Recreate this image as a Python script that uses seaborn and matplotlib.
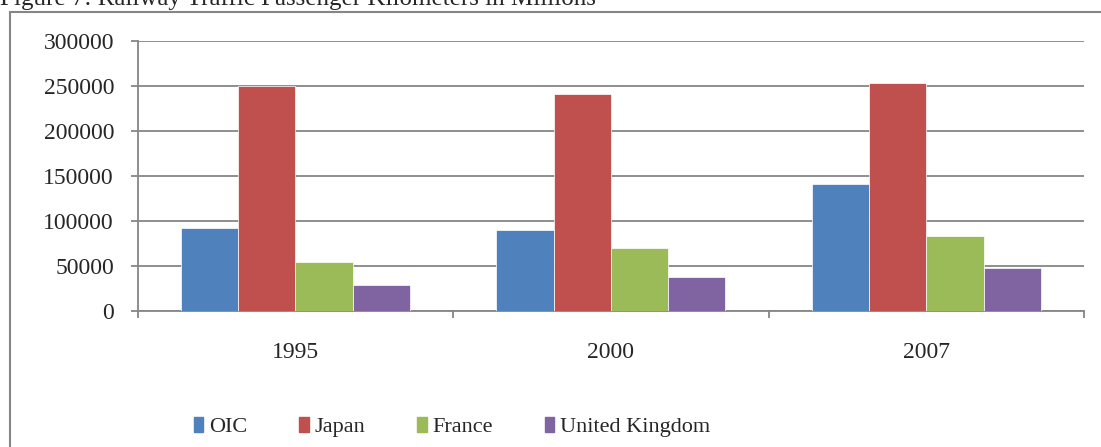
import numpy as np
import pandas as pd
import matplotlib
matplotlib.use('Agg')
import matplotlib.pyplot as plt
from matplotlib.patches import Rectangle
from matplotlib.ticker import FixedLocator
import seaborn as sns

# values (passenger km, millions)
years = ['1995', '2000', '2007']
countries = ['OIC', 'Japan', 'France', 'United Kingdom']
oic = [91900, 90400, 141500]
japan = [249200, 241100, 253000]
france = [54800, 69600, 83000]
uk = [29200, 37400, 48100]
colors = ['#4F81BD', '#C0504D', '#9BBB59', '#8064A2']
y_ticks = [0, 50000, 100000, 150000, 200000, 250000, 300000]

df = pd.DataFrame({
    'year': years * 4,
    'country': np.repeat(countries, 3),
    'value': oic + japan + france + uk,
})

sns.set_style('white')
plt.rcParams['font.family'] = ['Liberation Serif', 'DejaVu Serif']

fig = plt.figure(figsize=(11.01, 4.47), dpi=100)
ax = fig.add_axes([0.125, 0.304, 0.8596, 0.605])

sns.barplot(data=df, x='year', y='value', hue='country', order=years,
            hue_order=countries, palette=colors, saturation=1, width=0.726,
            edgecolor='white', linewidth=0.5, ax=ax, zorder=3)

grey = '#868686'
ax.set_ylim(0, 300000)
ax.set_xlim(-0.5, 2.5)
ax.set_yticks(y_ticks)
ax.set_yticklabels([str(t) for t in y_ticks])
ax.yaxis.grid(True, color=grey, linewidth=1.3, zorder=0)
ax.set_axisbelow(True)
for s in ['top', 'right']:
    ax.spines[s].set_visible(False)
for s in ['left', 'bottom']:
    ax.spines[s].set_color(grey)
    ax.spines[s].set_linewidth(1.3)

ax.tick_params(axis='y', which='major', length=5, width=1.3, color=grey,
               left=True, labelsize=17, pad=12)
ax.tick_params(axis='x', which='major', length=0, labelsize=17, pad=22)
ax.xaxis.set_minor_locator(FixedLocator([-0.5, 0.5, 1.5, 2.5]))
ax.tick_params(axis='x', which='minor', length=5, width=1.3, color=grey,
               bottom=True)
ax.set_xlabel('')
ax.set_ylabel('')

ax.get_legend().remove()
handles = [Rectangle((0, 0), 1, 1, color=c) for c in colors]
fig.legend(handles, countries, loc='center left',
           bbox_to_anchor=(194 / 1101, 0.045), borderaxespad=0, borderpad=0,
           ncol=4, frameon=False, fontsize=16, handlelength=0.42,
           handleheight=0.7, handletextpad=0.25, columnspacing=2.35)

# outer chart border (right/bottom edges fall outside the crop)
fig.patches.append(Rectangle((9.5 / 1101, -0.1), 1.2, 1 - 12 / 447 + 0.1,
                             transform=fig.transFigure, fill=False,
                             edgecolor=grey, linewidth=1.5))

fig.text(0.0, 1 - 5 / 447, 'Figure 7: Railway Traffic Passenger Kilometers in Millions',
         fontsize=18, va='baseline', ha='left')

fig.savefig('out.png', dpi=100)
